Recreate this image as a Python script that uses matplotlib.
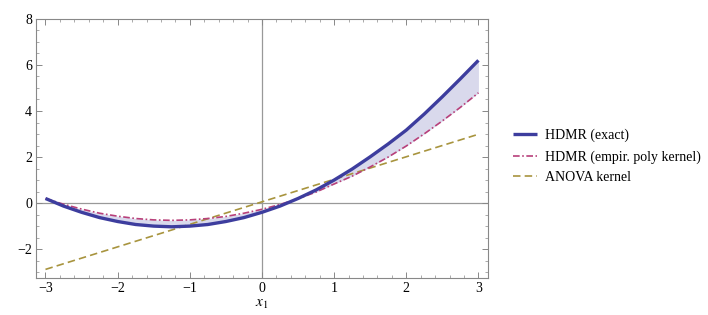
import numpy as np
import matplotlib
matplotlib.use("Agg")
import matplotlib.pyplot as plt
from matplotlib.ticker import MultipleLocator

# values
x_pts = [-3.0, -2.75, -2.5, -2.25, -2.0, -1.75, -1.5, -1.25, -1.0, -0.75, -0.5, -0.25,
         0.0, 0.25, 0.5, 0.75, 1.0, 1.25, 1.5, 1.75, 2.0, 2.25, 2.5, 2.75, 3.0]
hdmr_exact = [0.2, -0.13, -0.4, -0.63, -0.8, -0.93, -1.0, -1.03, -1.0, -0.93, -0.8, -0.63,
              -0.4, -0.13, 0.2, 0.57, 1.0, 1.48, 2.01, 2.57, 3.17, 3.87, 4.62, 5.4, 6.2]
hdmr_empir = [0.2, -0.05, -0.26, -0.44, -0.57, -0.67, -0.73, -0.75, -0.73, -0.67, -0.58, -0.44,
              -0.27, -0.06, 0.19, 0.48, 0.83, 1.17, 1.57, 2.0, 2.48, 3.01, 3.57, 4.16, 4.79]
anova_x = [-3.0, 3.0]
anova_y = [-2.88, 2.99]

labels = ["HDMR (exact)", "HDMR (empir. poly kernel)", "ANOVA kernel"]

plt.rcParams['font.family'] = ['Liberation Serif', 'DejaVu Serif']
plt.rcParams['mathtext.fontset'] = 'stix'

fig = plt.figure(figsize=(7.08, 3.15), dpi=100)
ax = fig.add_axes([0.051, 0.117, 0.638, 0.823])

# shaded gap between exact and empirical curve
ax.fill_between(x_pts, hdmr_exact, hdmr_empir, color='#d9d9ec', lw=0, zorder=1)

# axes lines through origin
ax.axhline(0, color='#999999', lw=0.9, zorder=0)
ax.axvline(0, color='#999999', lw=0.9, zorder=0)

l1, = ax.plot(x_pts, hdmr_exact, color='#3d3d9e', lw=2.4, zorder=4,
              solid_capstyle='butt')
l2, = ax.plot(x_pts, hdmr_empir, color='#b8407a', lw=1.2, zorder=3,
              dashes=(4, 1.5, 1, 1.5))
l3, = ax.plot(anova_x, anova_y, color='#a8943e', lw=1.2, zorder=2,
              dashes=(4.5, 2.5))

ax.set_xlim(-3.13, 3.13)
ax.set_ylim(-3.26, 8)

ax.xaxis.set_minor_locator(MultipleLocator(0.2))
ax.yaxis.set_minor_locator(MultipleLocator(0.5))
ax.set_yticks([-2, 0, 2, 4, 6, 8])
ax.set_yticklabels(['\u22122', '0', '2', '4', '6', '8'])
ax.set_xticks([-3, -2, -1, 0, 1, 2, 3])
ax.set_xticklabels(['\u22123', '\u22122', '\u22121', '0', '1', '2', '3'])

ax.tick_params(which='both', direction='in', top=True, right=True,
               color='#888888', labelsize=10, pad=3)
ax.tick_params(which='major', length=4, width=0.7)
ax.tick_params(which='minor', length=2, width=0.5)
for s in ax.spines.values():
    s.set_color('#888888')
    s.set_linewidth(0.8)

ax.set_xlabel('$x_1$', fontsize=11, labelpad=2)

fig.legend([l1, l2, l3], labels, loc='center left',
           bbox_to_anchor=(0.707, 0.503), frameon=False, fontsize=10,
           handlelength=1.75, handletextpad=0.55, labelspacing=0.55)

fig.savefig('out.png', dpi=100)
